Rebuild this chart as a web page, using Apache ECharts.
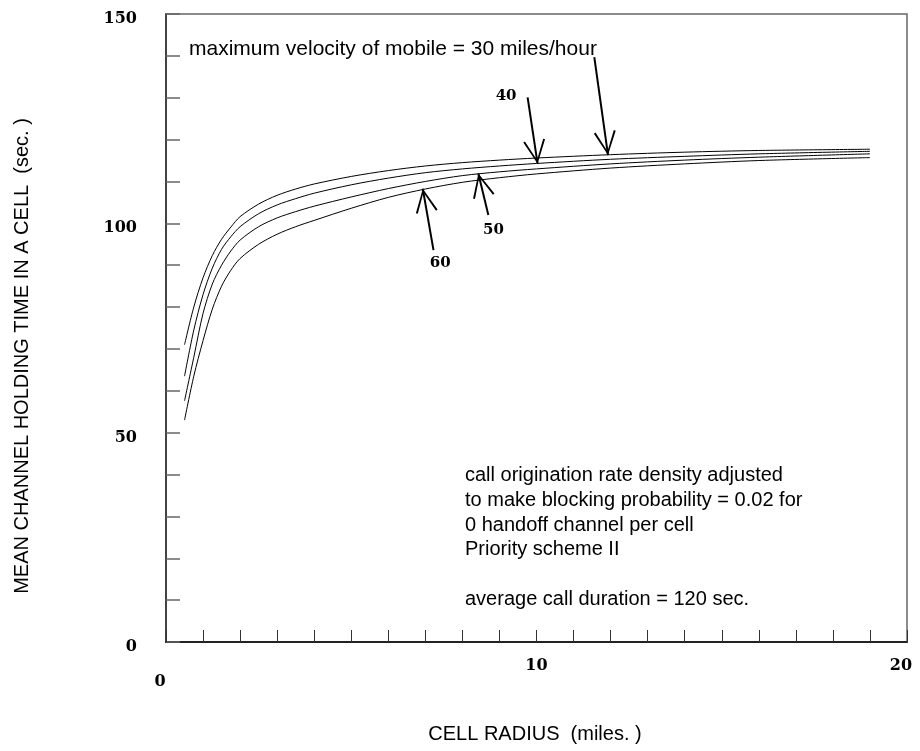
<!DOCTYPE html>
<html>
<head>
<meta charset="utf-8">
<script src="https://cdn.jsdelivr.net/npm/echarts@6/dist/echarts.min.js"></script>
<style>
  html, body { margin: 0; padding: 0; background: #fff; }
  #chart { width: 920px; height: 751px; }
</style>
</head>
<body>
<div id="chart"></div>
<script>
// cell radius (miles) where the curves were read
const radius = [0.5, 0.75, 1, 1.25, 1.5, 1.75, 2, 2.5, 3, 3.5, 4, 5, 6, 7, 8, 9, 10, 12, 14, 16, 19];
// mean channel holding time (sec) per max velocity
const v30 = [71, 80, 87, 92.3, 96.2, 99.1, 101.6, 104.6, 106.7, 108.2, 109.4, 111.2, 112.6, 113.7, 114.5, 115.1, 115.6, 116.4, 117.0, 117.4, 117.7];
const v40 = [63.5, 74.5, 83, 89.3, 93.8, 96.8, 99.2, 102.3, 104.4, 105.9, 107.2, 109.2, 110.8, 112.1, 113.0, 113.7, 114.3, 115.3, 116.0, 116.6, 117.2];
const v50 = [57.6, 68, 78.5, 85.5, 90, 93.4, 96, 99.2, 101.3, 102.8, 104.1, 106.3, 108.3, 110.0, 111.4, 112.3, 113.0, 114.2, 115.1, 115.8, 116.6];
const v60 = [53, 63.5, 72, 79.5, 85, 88.8, 91.6, 95.0, 97.4, 99.2, 100.7, 103.6, 106.2, 108.2, 109.8, 110.9, 111.8, 113.2, 114.2, 115.0, 115.7];

const yTickLabels = [0, 50, 100, 150];
const xTickLabels = [0, 10, 20];

// arrows (data coords): tail -> tip
const arrowFrom = [[11.56, 139.7], [9.76, 130.1], [8.70, 102.0], [7.22, 93.6]];
const arrowTo   = [[11.93, 116.3], [10.03, 114.2], [8.43, 111.9], [6.93, 108.3]];
const arrowLabels = ['40', '50', '60'];
const arrowLabelAt = [[9.18, 130.5], [8.84, 98.4], [7.40, 90.4]];

const noteTop = 'maximum velocity of mobile = 30 miles/hour';
const noteLines = [
  'call origination rate density adjusted',
  'to make blocking probability = 0.02 for',
  '0 handoff channel per cell',
  'Priority scheme II',
  '',
  'average call duration = 120 sec.'
];

const sans = '"Liberation Sans", Arial, sans-serif';
const serif = '"DejaVu Serif", serif';

// open V head, tip in the middle of the box so it lands on the end point
const chevron = 'path://M10,-23 L10,-23 Z M10,0 L0,22 L1.6,22.8 L10,3.6 L18.4,22.8 L20,22 Z';

const chart = echarts.init(document.getElementById('chart'), null, { renderer: 'canvas' });

function toPairs(ys) {
  return radius.map((x, i) => [x, ys[i]]);
}

const lineSeries = [v30, v40, v50, v60].map((ys) => ({
  type: 'line',
  data: toPairs(ys),
  smooth: 0.3,
  showSymbol: false,
  silent: true,
  lineStyle: { color: '#000', width: 1 },
  z: 3
}));

lineSeries[0].markLine = {
  silent: true,
  symbol: ['none', chevron],
  symbolSize: [22, 48],
  label: { show: false },
  lineStyle: { color: '#000', width: 2, type: 'solid' },
  data: arrowFrom.map((p, i) => [{ coord: p }, { coord: arrowTo[i] }])
};
lineSeries[0].markPoint = {
  silent: true,
  symbol: 'circle',
  symbolSize: 0,
  label: {
    show: true,
    position: 'inside',
    color: '#000',
    fontFamily: serif,
    fontWeight: 'bold',
    fontSize: 15,
    formatter: (p) => p.name
  },
  data: arrowLabels.map((t, i) => ({ name: t, coord: arrowLabelAt[i] }))
};

const option = {
  animation: false,
  backgroundColor: '#fff',
  grid: {
    left: 166, right: 13, top: 14, bottom: 109,
    show: true, borderColor: '#666', borderWidth: 1.5
  },
  xAxis: {
    type: 'value',
    min: 0, max: 20, interval: 1,
    axisLine: { show: true, lineStyle: { color: '#222', width: 2 } },
    axisTick: { show: true, inside: true, length: 12, lineStyle: { color: '#333', width: 1 } },
    splitLine: { show: false },
    axisLabel: {
      margin: 16,
      color: '#000',
      fontFamily: serif,
      fontWeight: 'bold',
      fontSize: 16,
      showMinLabel: true,
      showMaxLabel: true,
      formatter: (v) => {
        if (!xTickLabels.includes(v)) return '';
        if (v === 0) return '{z|' + v + '}';
        if (v === 20) return '{e|' + v + '}';
        return '{m|' + v + '}';
      },
      rich: {
        z: { fontFamily: serif, fontWeight: 'bold', fontSize: 16, color: '#000', padding: [16, 12, 0, 0] },
        m: { fontFamily: serif, fontWeight: 'bold', fontSize: 16, color: '#000', padding: [0, 0, 0, 0] },
        e: { fontFamily: serif, fontWeight: 'bold', fontSize: 16, color: '#000', padding: [0, 12, 0, 0] }
      }
    }
  },
  yAxis: {
    type: 'value',
    min: 0, max: 150, interval: 10,
    axisLine: { show: true, lineStyle: { color: '#444', width: 2 } },
    axisTick: { show: true, inside: true, length: 14, lineStyle: { color: '#666', width: 1.5 } },
    splitLine: { show: false },
    axisLabel: {
      margin: 29,
      color: '#000',
      fontFamily: serif,
      fontWeight: 'bold',
      fontSize: 16,
      formatter: (v) => (yTickLabels.includes(v) ? '{l|' + v + '}' : ''),
      rich: {
        l: { fontFamily: serif, fontWeight: 'bold', fontSize: 16, color: '#000', padding: [10, 0, 0, 0] }
      }
    }
  },
  graphic: [
    {
      type: 'text', left: 189, top: 39, silent: true,
      style: { text: noteTop, font: '21px ' + sans, fill: '#000' }
    },
    {
      type: 'text', left: 465, top: 463, silent: true,
      style: { text: noteLines.join('\n'), font: '20px ' + sans, fill: '#000', lineHeight: 24.8 }
    },
    {
      type: 'text', x: 22, y: 356, rotation: Math.PI / 2, silent: true,
      style: {
        text: 'MEAN CHANNEL HOLDING TIME IN A CELL  (sec. )',
        font: '20px ' + sans, fill: '#000', align: 'center', verticalAlign: 'middle'
      }
    },
    {
      type: 'text', x: 535, y: 734, silent: true,
      style: {
        text: 'CELL RADIUS  (miles. )',
        font: '20px ' + sans, fill: '#000', align: 'center', verticalAlign: 'middle'
      }
    }
  ],
  series: lineSeries
};

chart.setOption(option);
</script>
</body>
</html>
